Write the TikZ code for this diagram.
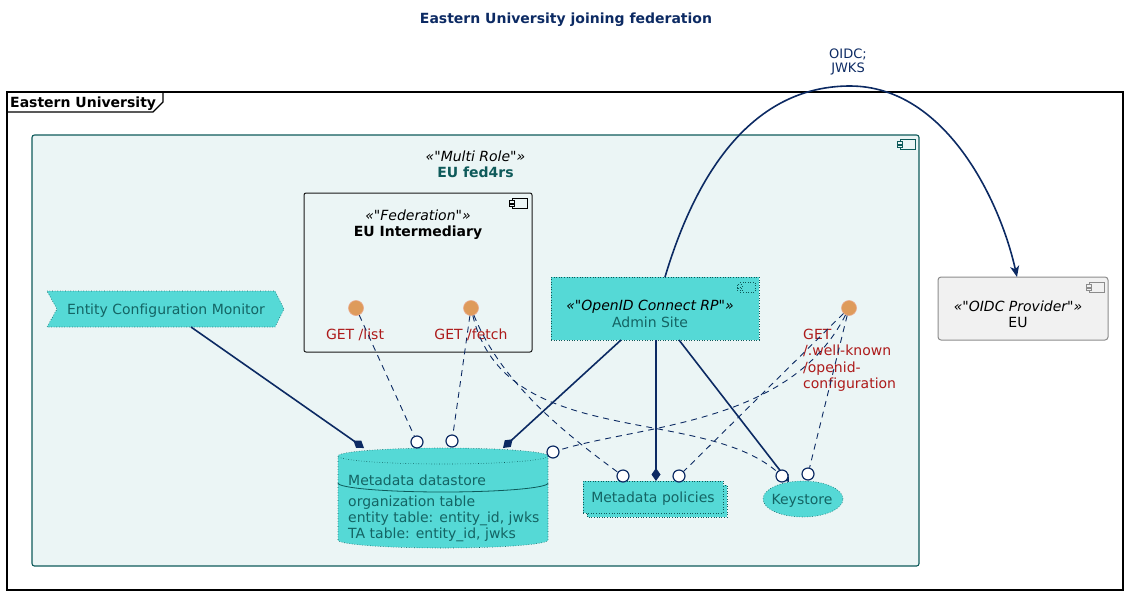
\documentclass[tikz,border=0pt]{standalone}
\usepackage{fontspec}
\setmainfont{DejaVu Sans}[Ligatures={TeXOff,CommonOff}]
\usetikzlibrary{arrows.meta,calc,shapes.geometric}
\definecolor{navy}{HTML}{0C2A63}
\definecolor{tealdark}{HTML}{0E5A5A}
\definecolor{tealtext}{HTML}{146464}
\definecolor{cyanfill}{HTML}{55D9D6}
\definecolor{lightbg}{HTML}{EBF5F5}
\definecolor{ifred}{HTML}{AD1A1A}
\definecolor{iforange}{HTML}{DE9B5B}
\definecolor{ifborder}{HTML}{EBA88A}
\definecolor{grayfill}{HTML}{F1F1F1}
\definecolor{grayborder}{HTML}{8C8C8C}
\newcommand{\dfont}{\fontsize{14}{16.4}\selectfont}
\newcommand{\compicon}[3][]{%
  \draw[#1] (#2,#3) rectangle ++(15,10);
  \draw[#1] (#2-3,#3+2.5) rectangle ++(5,2.5);
  \draw[#1] (#2-3,#3+6) rectangle ++(5,2.5);}
\begin{document}
\begin{tikzpicture}[x=1pt,y=-1pt,
  txt/.style={inner sep=0pt, anchor=base, font=\dfont},
  txtw/.style={inner sep=0pt, anchor=base west, font=\dfont},
  stereo/.style={txt, font=\dfont\itshape},
  iface/.style={circle, fill=iforange, draw=ifborder, line width=0.6pt, minimum size=15pt, inner sep=0pt},
  lolli/.style={circle, fill=white, draw=navy, line width=1.2pt, minimum size=12pt, inner sep=0pt},
  comp/.style={draw=navy, line width=1.6pt, -{Diamond[length=13pt,width=9pt,fill=navy]}},
  dep/.style={draw=navy, line width=0.9pt, dash pattern=on 6pt off 5pt},
  dotbox/.style={draw=tealdark, dotted, line width=0.6pt, fill=cyanfill},
  iflabel/.style={txt, text=ifred},
  iflabelw/.style={txtw, text=ifred}]
\useasboundingbox (0,0) rectangle (1129,595);

% title
\node[txt, font=\dfont\bfseries, text=navy] (title) at (566,23) {Eastern University joining federation};

% outer frame
\draw[line width=1.2pt] (7,92) rectangle (1123,590);
\draw[line width=1.1pt] (7,112) -- (153,112) -- (163,102) -- (163,92);
\node[txtw, font=\dfont\bfseries] (framelbl) at (10,107) {Eastern University};

% EU fed4rs container
\node[draw=tealdark, fill=lightbg, rounded corners=2.5pt, line width=1.1pt, minimum width=887pt, minimum height=431pt, inner sep=0pt] (fed) at (475.5,350.5) {};
\compicon[draw=tealdark, line width=1pt, fill=lightbg]{900}{139}
\node[stereo] (fedst) at (475.5,161) {«"Multi Role"»};
\node[txt, font=\dfont\bfseries, text=tealdark] (fedname) at (475.5,177) {EU fed4rs};

% EU Intermediary
\node[draw=black!90, fill=lightbg, rounded corners=2pt, line width=1pt, minimum width=228pt, minimum height=159pt, inner sep=0pt] (inter) at (418,272.5) {};
\compicon[draw=black, line width=0.9pt, fill=lightbg]{512}{198}
\node[stereo] (interst) at (418,220) {«"Federation"»};
\node[txt, font=\dfont\bfseries] (intername) at (418,236) {EU Intermediary};

% Admin Site
\node[dotbox, minimum width=208pt, minimum height=63pt, inner sep=0pt] (admin) at (655,308.5) {};
\compicon[draw=tealdark, dotted, line width=0.6pt, fill=cyanfill]{740}{282}
\node[stereo] (adminst) at (650,310) {«"OpenID Connect RP"»};
\node[txt, text=tealtext] (adminname) at (650,327) {Admin Site};

% EU OIDC provider
\node[draw=grayborder, fill=grayfill, rounded corners=3pt, line width=1pt, minimum width=170pt, minimum height=63pt, inner sep=0pt] (eu) at (1023,308.5) {};
\compicon[draw=grayborder, line width=0.9pt, fill=grayfill]{1089}{282}
\node[stereo] (eust) at (1018,311) {«"OIDC Provider"»};
\node[txt] (euname) at (1018,327) {EU};

% Entity Configuration Monitor (chevron)
\node[minimum width=237pt, minimum height=36pt, inner sep=0pt] (ecm) at (165.5,309) {};
\path[dotbox] (47,291) -- (275,291) -- (284,309) -- (275,327) -- (47,327) -- (57,309) -- cycle;
\node[txt, text=tealtext] (ecmtxt) at (166,314) {Entity Configuration Monitor};

% Metadata datastore (cylinder)
\path[fill=cyanfill] (338,456) -- (338,540) arc[start angle=180, end angle=360, x radius=105pt, y radius=8pt] -- (548,456) arc[start angle=0, end angle=180, x radius=105pt, y radius=8pt] -- cycle;
\draw[tealdark, dotted, line width=0.6pt] (338,456) -- (338,540) arc[start angle=180, end angle=360, x radius=105pt, y radius=8pt] -- (548,456) arc[start angle=0, end angle=180, x radius=105pt, y radius=8pt] -- cycle;
\draw[tealdark, dotted, line width=0.6pt] (548,456) arc[start angle=0, end angle=-180, x radius=105pt, y radius=8pt];
\draw[tealdark, line width=0.8pt] (338,483) arc[start angle=180, end angle=360, x radius=105pt, y radius=9pt];
\node[inner sep=0pt, minimum width=210pt, minimum height=100pt] (ds) at (443,498) {};
\node[txtw, text=tealtext] (ds1) at (348,485) {Metadata datastore};
\node[txtw, text=tealtext] (ds2) at (348,506) {organization table};
\node[txtw, text=tealtext] (ds3) at (348,522) {entity table: entity\_id, jwks};
\node[txtw, text=tealtext] (ds4) at (348,538) {TA table: entity\_id, jwks};

% Metadata policies (collection)
\path[dotbox] (587,485) rectangle (727,517);
\node[dotbox, minimum width=140pt, minimum height=32pt, inner sep=0pt] (mp) at (653,497) {};
\node[txt, text=tealtext] (mptxt) at (653,502) {Metadata policies};

% Keystore
\node[dotbox, ellipse, minimum width=80pt, minimum height=36pt, inner sep=0pt] (ks) at (803,499) {};
\node[txt, text=tealtext] (kstxt) at (802,504) {Keystore};

% composition connectors
\coordinate (ecmOut) at (191,327);
\coordinate (dsD1) at (364,448);
\coordinate (adm1) at (621,340);
\coordinate (dsD2) at (503,448);
\coordinate (adm2) at (656,340);
\coordinate (mpD) at (656,481);
\coordinate (adm3) at (679,340);
\coordinate (ksD) at (789,482);
\draw[comp] (ecmOut) -- (dsD1);
\draw[comp] (adm1) -- (dsD2);
\draw[comp] (adm2) -- (mpD);
\draw[comp] (adm3) -- (ksD);

% OIDC arc
\coordinate (admTop) at (665,277);
\coordinate (euIn) at (1017,277);
\draw[draw=navy, line width=1.6pt, -{Stealth[length=11pt,width=9pt,inset=3pt]}] (admTop) .. controls (700,160) and (760,86) .. (850,86) .. controls (945,86) and (1000,200) .. (euIn);
\node[txt, font=\fontsize{13}{15}\selectfont, text=navy] (oidc1) at (848,58) {OIDC;};
\node[txt, font=\fontsize{13}{15}\selectfont, text=navy] (oidc2) at (848,72) {JWKS};

% interfaces
\node[iface] (ifList) at (356,308) {};
\node[iface] (ifFetch) at (471,308) {};
\node[iface] (ifWK) at (849,308) {};
\node[iflabel] (lblList) at (355,339) {GET /list};
\node[iflabel] (lblFetch) at (471,339) {GET /fetch};
\node[iflabelw] (lblWK1) at (803,339) {GET};
\node[iflabelw] (lblWK2) at (803,355) {/.well-known};
\node[iflabelw] (lblWK3) at (803,372) {/openid-};
\node[iflabelw] (lblWK4) at (803,388) {configuration};

% lollipop ends
\node[lolli] (dsA) at (417,442) {};
\node[lolli] (dsB) at (452,441) {};
\node[lolli] (dsC) at (553,452) {};
\node[lolli] (mpA) at (623,476) {};
\node[lolli] (mpB) at (679,476) {};
\node[lolli] (ksA) at (782,476) {};
\node[lolli] (ksB) at (808,474) {};

% dependency connectors
\draw[dep] (ifList) -- (dsA);
\draw[dep] (ifFetch) -- (dsB);
\draw[dep] (ifFetch) .. controls (500,380) and (560,430) .. (mpA);
\draw[dep] (ifFetch) .. controls (505,450) and (700,405) .. (ksA);
\draw[dep] (ifWK) .. controls (790,425) and (640,425) .. (dsC);
\draw[dep] (ifWK) -- (mpB);
\draw[dep] (ifWK) -- (ksB);
\end{tikzpicture}
\end{document}
